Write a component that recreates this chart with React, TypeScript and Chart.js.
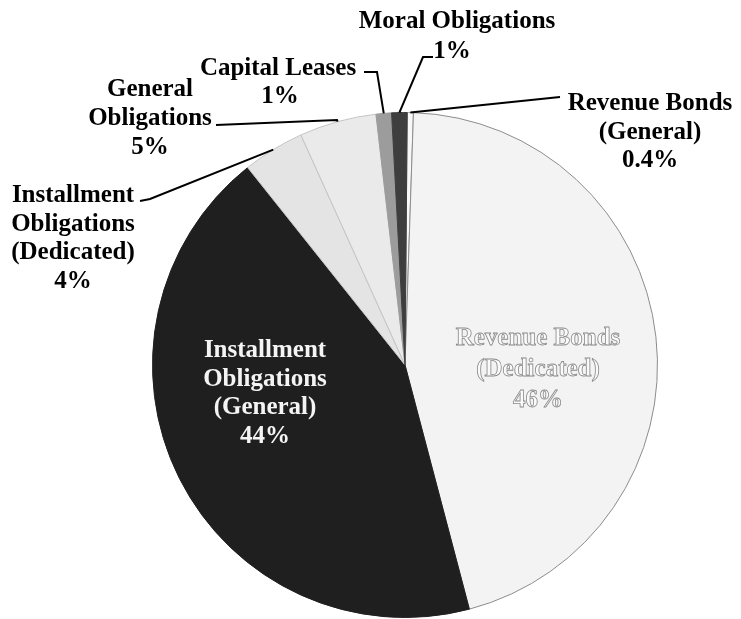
import React, { useEffect, useRef } from "react";
import { Chart, registerables } from "chart.js";

Chart.register(...registerables);

// ---- data ----
const categories = [
  "Revenue Bonds (General)",
  "Revenue Bonds (Dedicated)",
  "Installment Obligations (General)",
  "Installment Obligations (Dedicated)",
  "General Obligations",
  "Capital Leases",
  "Moral Obligations",
];
const shares = [0.4, 46, 44, 4, 5, 1, 1];
const labelLines = [
  ["Revenue Bonds", "(General)"],
  ["Revenue Bonds", "(Dedicated)"],
  ["Installment", "Obligations", "(General)"],
  ["Installment", "Obligations", "(Dedicated)"],
  ["General", "Obligations"],
  ["Capital Leases"],
  ["Moral Obligations"],
];

// ---- styling / layout ----
const fills = ["#f8f8f8", "#f3f3f3", "#1f1f1f", "#e4e4e4", "#eaeaea", "#9c9c9c", "#3e3e3e"];
const borders = ["#9a9a9a", "#8c8c8c", "#1f1f1f", "#c4c4c4", "#c4c4c4", "#9c9c9c", "#3e3e3e"];
const FONT = 'bold 25px "Liberation Serif", "Times New Roman", serif';

type LabelLayout = {
  cx: number;
  y: number;
  step: number;
  pctCx?: number;
  leader: number[][] | null;
  style: "outside" | "white" | "outline";
};
const layouts: LabelLayout[] = [
  { cx: 650, y: 110, step: 28.5, leader: [[560, 97]], style: "outside" },
  { cx: 538, y: 345, step: 31, leader: null, style: "outline" },
  { cx: 265, y: 357, step: 28.5, leader: null, style: "white" },
  { cx: 73, y: 202, step: 28.7, leader: [[150, 199], [140, 201]], style: "outside" },
  { cx: 150, y: 96, step: 29, leader: [[337, 120], [216, 125]], style: "outside" },
  { cx: 278, y: 75, step: 28, pctCx: 280, leader: [[377, 72], [364, 72]], style: "outside" },
  { cx: 457, y: 28, step: 30, pctCx: 452, leader: [[423, 57], [433, 57]], style: "outside" },
];

const labelPlugin = {
  id: "sliceLabels",
  afterDatasetsDraw(chart: any) {
    const ctx = chart.ctx as CanvasRenderingContext2D;
    const meta = chart.getDatasetMeta(0);
    ctx.save();
    ctx.font = FONT;
    ctx.textAlign = "center";
    ctx.textBaseline = "alphabetic";
    meta.data.forEach((arc: any, i: number) => {
      const p = arc.getProps(["x", "y", "startAngle", "endAngle", "outerRadius"], true);
      const lay = layouts[i];
      const mid = (p.startAngle + p.endAngle) / 2;
      if (lay.leader) {
        const ax = p.x + Math.cos(mid) * p.outerRadius;
        const ay = p.y + Math.sin(mid) * p.outerRadius;
        ctx.beginPath();
        ctx.strokeStyle = "#000";
        ctx.lineWidth = 2;
        ctx.moveTo(ax, ay);
        lay.leader.forEach((pt) => ctx.lineTo(pt[0], pt[1]));
        ctx.stroke();
      }
      const lines = [...labelLines[i], `${shares[i]}%`];
      lines.forEach((t, j) => {
        const isPct = j === lines.length - 1;
        const x = isPct && lay.pctCx ? lay.pctCx : lay.cx;
        const y = lay.y + j * lay.step;
        if (lay.style === "outside") {
          ctx.fillStyle = "#000";
          ctx.fillText(t, x, y);
        } else if (lay.style === "white") {
          ctx.fillStyle = "#f4f4f4";
          ctx.fillText(t, x, y);
        } else {
          ctx.fillStyle = "#fafafa";
          ctx.fillText(t, x, y);
          ctx.strokeStyle = "#8a8a8a";
          ctx.lineWidth = 0.8;
          ctx.strokeText(t, x, y);
        }
      });
    });
    ctx.restore();
  },
};

export default function App() {
  const ref = useRef<HTMLCanvasElement | null>(null);
  useEffect(() => {
    if (!ref.current) return;
    const chart = new Chart(ref.current, {
      type: "pie",
      data: {
        labels: categories,
        datasets: [
          {
            data: shares,
            backgroundColor: fills,
            borderColor: borders,
            borderWidth: 1,
          },
        ],
      },
      options: {
        animation: false,
        responsive: false,
        rotation: 0.5,
        layout: { padding: { left: 152, right: 83, top: 112, bottom: 1 } },
        plugins: {
          legend: { display: false },
          tooltip: { enabled: false },
        },
      },
      plugins: [labelPlugin],
    });
    return () => chart.destroy();
  }, []);
  return (
    <div style={{ position: "fixed", left: 0, top: 0, width: 741, height: 619, background: "#fff" }}>
      <canvas ref={ref} width={741} height={619} style={{ display: "block" }} />
    </div>
  );
}
